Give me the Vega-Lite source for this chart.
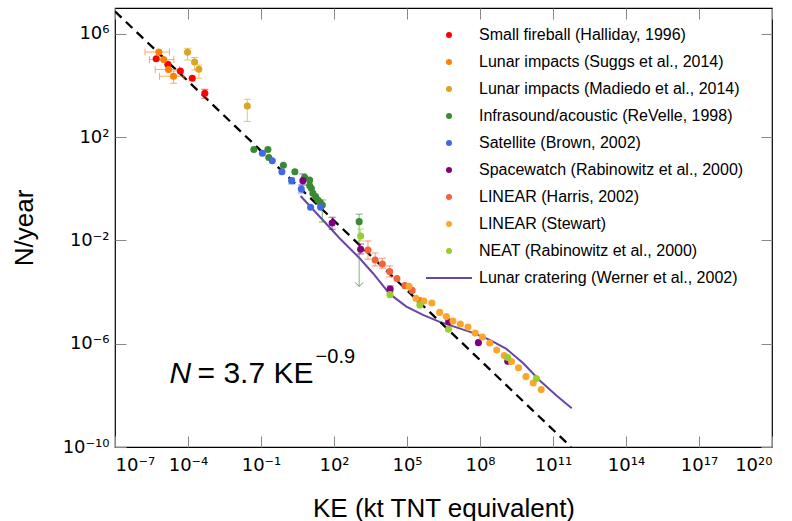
{
  "$schema": "https://vega.github.io/schema/vega-lite/v6.json",
  "width": 657,
  "height": 439,
  "autosize": {"type": "none"},
  "padding": {"left": 115, "top": 8, "right": 20, "bottom": 74},
  "background": "white",
  "config": {
    "view": {"stroke": "black", "strokeWidth": 1.2},
    "font": "Liberation Sans",
    "axis": {"grid": false, "domain": false, "tickColor": "#888888", "tickSize": -11, "tickWidth": 1, "labelFont": "DejaVu Sans", "labelFontSize": 18, "labelColor": "black", "labelPadding": 20, "titleFont": "Liberation Sans", "titleFontWeight": "normal", "titleColor": "black", "titleFontSize": 26}
  },
  "resolve": {"axis": {"x": "independent", "y": "independent"}, "legend": {"color": "independent", "shape": "independent"}},
  "datasets": {
    "pts": [
      {"s": "Small fireball (Halliday, 1996)", "ke": 4.94e-6, "n": 1.09e5},
      {"s": "Small fireball (Halliday, 1996)", "ke": 1.48e-5, "n": 6.61e4},
      {"s": "Small fireball (Halliday, 1996)", "ke": 4.84e-5, "n": 3.64e4},
      {"s": "Small fireball (Halliday, 1996)", "ke": 1.49e-4, "n": 1.90e4},
      {"s": "Small fireball (Halliday, 1996)", "ke": 4.92e-4, "n": 4.99e3, "nlo": 3.19e3, "nhi": 7.13e3},
      {"s": "Lunar impacts (Suggs et al., 2014)", "ke": 6.32e-6, "n": 1.98e5, "kelo": 1.71e-6, "kehi": 1.74e-5},
      {"s": "Lunar impacts (Suggs et al., 2014)", "ke": 1.0e-5, "n": 1.01e5, "kelo": 2.62e-6, "kehi": 2.62e-5},
      {"s": "Lunar impacts (Suggs et al., 2014)", "ke": 1.58e-5, "n": 4.16e4, "kelo": 4.5e-6, "kehi": 4.49e-5},
      {"s": "Lunar impacts (Suggs et al., 2014)", "ke": 2.54e-5, "n": 2.29e4, "kelo": 6.76e-6, "kehi": 6.75e-5, "nlo": 1.22e4, "nhi": 3.64e4},
      {"s": "Lunar impacts (Madiedo et al., 2014)", "ke": 9.57e-5, "n": 1.93e5, "nlo": 9.7e4, "nhi": 2.75e5},
      {"s": "Lunar impacts (Madiedo et al., 2014)", "ke": 1.86e-4, "n": 8.11e4, "nlo": 3.98e4, "nhi": 1.21e5},
      {"s": "Lunar impacts (Madiedo et al., 2014)", "ke": 2.79e-4, "n": 4.24e4, "nlo": 1.9e4, "nhi": 6.21e4},
      {"s": "Lunar impacts (Madiedo et al., 2014)", "ke": 2.73e-2, "n": 1.61e3, "nlo": 404, "nhi": 2.92e3},
      {"s": "Infrasound/acoustic (ReVelle, 1998)", "ke": 0.0509, "n": 33.3},
      {"s": "Infrasound/acoustic (ReVelle, 1998)", "ke": 0.192, "n": 33.3},
      {"s": "Infrasound/acoustic (ReVelle, 1998)", "ke": 0.209, "n": 16.3},
      {"s": "Infrasound/acoustic (ReVelle, 1998)", "ke": 0.832, "n": 8.2},
      {"s": "Infrasound/acoustic (ReVelle, 1998)", "ke": 2.47, "n": 4.59},
      {"s": "Infrasound/acoustic (ReVelle, 1998)", "ke": 6.19, "n": 2.79},
      {"s": "Infrasound/acoustic (ReVelle, 1998)", "ke": 9.95, "n": 2.19},
      {"s": "Infrasound/acoustic (ReVelle, 1998)", "ke": 9.95, "n": 1.34},
      {"s": "Infrasound/acoustic (ReVelle, 1998)", "ke": 11.7, "n": 1.05},
      {"s": "Infrasound/acoustic (ReVelle, 1998)", "ke": 13.6, "n": 0.67},
      {"s": "Infrasound/acoustic (ReVelle, 1998)", "ke": 17.5, "n": 0.495},
      {"s": "Infrasound/acoustic (ReVelle, 1998)", "ke": 21.8, "n": 0.369},
      {"s": "Infrasound/acoustic (ReVelle, 1998)", "ke": 27.4, "n": 0.29},
      {"s": "Infrasound/acoustic (ReVelle, 1998)", "ke": 33.1, "n": 0.236, "nlo": 0.0519, "nhi": 0.369},
      {"s": "Infrasound/acoustic (ReVelle, 1998)", "ke": 1080, "n": 0.0533, "nlo": 1.65e-4, "nhi": 0.104, "lim": true},
      {"s": "Satellite (Brown, 2002)", "ke": 0.114, "n": 23.9},
      {"s": "Satellite (Brown, 2002)", "ke": 0.291, "n": 12.2},
      {"s": "Satellite (Brown, 2002)", "ke": 0.723, "n": 4.59},
      {"s": "Satellite (Brown, 2002)", "ke": 1.81, "n": 2.06, "nlo": 1.53, "nhi": 2.62},
      {"s": "Satellite (Brown, 2002)", "ke": 4.53, "n": 0.984, "nlo": 0.689, "nhi": 1.4},
      {"s": "Satellite (Brown, 2002)", "ke": 10.9, "n": 0.192},
      {"s": "Satellite (Brown, 2002)", "ke": 28.2, "n": 0.192},
      {"s": "Spacewatch (Rabinowitz et al., 2000)", "ke": 5.27, "n": 2.06, "nlo": 1.4, "nhi": 3.74},
      {"s": "Spacewatch (Rabinowitz et al., 2000)", "ke": 83.8, "n": 0.0474, "nlo": 0.027, "nhi": 0.0789},
      {"s": "Spacewatch (Rabinowitz et al., 2000)", "ke": 1245, "n": 4.55e-3, "nlo": 2.99e-3, "nhi": 7.29e-3},
      {"s": "Spacewatch (Rabinowitz et al., 2000)", "ke": 2.03e4, "n": 1.32e-4, "nlo": 1.01e-4, "nhi": 1.73e-4},
      {"s": "Spacewatch (Rabinowitz et al., 2000)", "ke": 5.16e6, "n": 7.1e-6},
      {"s": "Spacewatch (Rabinowitz et al., 2000)", "ke": 8.59e7, "n": 1.1e-6},
      {"s": "Spacewatch (Rabinowitz et al., 2000)", "ke": 1.38e9, "n": 2.1e-7},
      {"s": "LINEAR (Harris, 2002)", "ke": 2483, "n": 4.28e-3, "nlo": 1.87e-3, "nhi": 9.53e-3},
      {"s": "LINEAR (Harris, 2002)", "ke": 4909, "n": 1.75e-3, "nlo": 1.03e-3, "nhi": 3.27e-3},
      {"s": "LINEAR (Harris, 2002)", "ke": 9705, "n": 1.23e-3, "nlo": 8.38e-4, "nhi": 2.04e-3},
      {"s": "LINEAR (Harris, 2002)", "ke": 1.94e4, "n": 6.3e-4, "nlo": 3.85e-4, "nhi": 1.03e-3},
      {"s": "LINEAR (Harris, 2002)", "ke": 3.86e4, "n": 3.37e-4},
      {"s": "LINEAR (Harris, 2002)", "ke": 8.17e4, "n": 1.77e-4},
      {"s": "LINEAR (Harris, 2002)", "ke": 1.63e5, "n": 1.16e-4},
      {"s": "LINEAR (Harris, 2002)", "ke": 3.32e5, "n": 4.74e-5},
      {"s": "LINEAR (Stewart)", "ke": 1.21e5, "n": 1.68e-4},
      {"s": "LINEAR (Stewart)", "ke": 2.33e5, "n": 5.77e-5},
      {"s": "LINEAR (Stewart)", "ke": 4.94e5, "n": 4.54e-5},
      {"s": "LINEAR (Stewart)", "ke": 1.05e6, "n": 3.79e-5},
      {"s": "LINEAR (Stewart)", "ke": 2.2e6, "n": 1.63e-5},
      {"s": "LINEAR (Stewart)", "ke": 4.15e6, "n": 1.12e-5},
      {"s": "LINEAR (Stewart)", "ke": 7.76e6, "n": 7.5e-6},
      {"s": "LINEAR (Stewart)", "ke": 1.56e7, "n": 5.83e-6},
      {"s": "LINEAR (Stewart)", "ke": 3.21e7, "n": 4.39e-6},
      {"s": "LINEAR (Stewart)", "ke": 6.35e7, "n": 2.57e-6},
      {"s": "LINEAR (Stewart)", "ke": 1.26e8, "n": 1.83e-6},
      {"s": "LINEAR (Stewart)", "ke": 2.51e8, "n": 1.07e-6},
      {"s": "LINEAR (Stewart)", "ke": 4.86e8, "n": 5.75e-7},
      {"s": "LINEAR (Stewart)", "ke": 9.89e8, "n": 3.46e-7},
      {"s": "LINEAR (Stewart)", "ke": 1.97e9, "n": 2.03e-7},
      {"s": "LINEAR (Stewart)", "ke": 3.83e9, "n": 1.17e-7},
      {"s": "LINEAR (Stewart)", "ke": 7.73e9, "n": 5.32e-8},
      {"s": "LINEAR (Stewart)", "ke": 1.54e10, "n": 3.03e-8},
      {"s": "LINEAR (Stewart)", "ke": 3.29e10, "n": 1.67e-8},
      {"s": "NEAT (Rabinowitz et al., 2000)", "ke": 1245, "n": 0.0149, "nlo": 9.53e-3, "nhi": 0.0278},
      {"s": "NEAT (Rabinowitz et al., 2000)", "ke": 1.99e4, "n": 7.94e-5},
      {"s": "NEAT (Rabinowitz et al., 2000)", "ke": 3.38e5, "n": 3.12e-5},
      {"s": "NEAT (Rabinowitz et al., 2000)", "ke": 5.07e6, "n": 3.64e-6},
      {"s": "NEAT (Rabinowitz et al., 2000)", "ke": 1.38e9, "n": 2.94e-7},
      {"s": "NEAT (Rabinowitz et al., 2000)", "ke": 2.08e10, "n": 4.45e-8}
    ],
    "crater": [
      {"ke": 4.25, "n": 0.527},
      {"ke": 170, "n": 0.0121},
      {"ke": 1130, "n": 2.04e-3},
      {"ke": 3981, "n": 5.36e-4},
      {"ke": 1.94e4, "n": 8.47e-5},
      {"ke": 9.42e4, "n": 2.73e-5},
      {"ke": 4.53e5, "n": 1.3e-5},
      {"ke": 2.2e6, "n": 6.98e-6},
      {"ke": 1.07e7, "n": 4.28e-6},
      {"ke": 5.15e7, "n": 2.62e-6},
      {"ke": 2.51e8, "n": 1.4e-6},
      {"ke": 1.22e9, "n": 6.28e-7},
      {"ke": 5.86e9, "n": 1.8e-7},
      {"ke": 2.85e10, "n": 3.79e-8},
      {"ke": 1.38e11, "n": 9.95e-9},
      {"ke": 5.9e11, "n": 3.18e-9}
    ],
    "fit": [
      {"ke": 1e-7, "n": 7.38e6},
      {"ke": 5.52e11, "n": 1e-10}
    ]
  },
  "encoding": {
    "x": {"field": "ke", "type": "quantitative", "scale": {"type": "log", "domain": [1e-7, 1e20], "nice": false}, "axis": null},
    "y": {"field": "n", "type": "quantitative", "scale": {"type": "log", "domain": [1e-10, 1e7], "nice": false}, "axis": null},
    "color": {
      "field": "s", "type": "nominal", "legend": null,
      "scale": {
        "domain": ["Small fireball (Halliday, 1996)", "Lunar impacts (Suggs et al., 2014)", "Lunar impacts (Madiedo et al., 2014)", "Infrasound/acoustic (ReVelle, 1998)", "Satellite (Brown, 2002)", "Spacewatch (Rabinowitz et al., 2000)", "LINEAR (Harris, 2002)", "LINEAR (Stewart)", "NEAT (Rabinowitz et al., 2000)", "Lunar cratering (Werner et al., 2002)"],
        "range": ["#ff0000", "#ff8000", "#daa520", "#3a8a35", "#4169e1", "#800080", "#f4623a", "#f9a62a", "#9acd32", "#6646a8"]
      }
    }
  },
  "layer": [
    {
      "data": {"name": "crater"},
      "mark": {"type": "line", "strokeWidth": 2, "clip": true},
      "encoding": {
        "x": {"field": "ke", "type": "quantitative", "scale": {"type": "log", "domain": [1e-7, 1e20], "nice": false},
          "axis": {"orient": "bottom", "values": [1e-7, 1e-4, 0.1, 100, 1e5, 1e8, 1e11, 1e14, 1e17, 1e20], "title": "KE (kt TNT equivalent)", "titlePadding": 21,
            "labelExpr": "'10' + replace(replace(replace(replace(replace(replace(replace(replace(replace(replace(replace('' + round(log(datum.value) / LN10), '-', '⁻'), regexp('0', 'g'), '⁰'), regexp('1', 'g'), '¹'), regexp('2', 'g'), '²'), regexp('3', 'g'), '³'), regexp('4', 'g'), '⁴'), regexp('5', 'g'), '⁵'), regexp('6', 'g'), '⁶'), regexp('7', 'g'), '⁷'), regexp('8', 'g'), '⁸'), regexp('9', 'g'), '⁹')"}},
        "y": {"field": "n", "type": "quantitative", "scale": {"type": "log", "domain": [1e-10, 1e7], "nice": false},
          "axis": {"orient": "left", "values": [1e-10, 1e-6, 1e-2, 100, 1e6], "title": "N/year", "titlePadding": 25, "labelPadding": 17,
            "labelExpr": "'10' + replace(replace(replace(replace(replace(replace(replace(replace(replace(replace(replace('' + round(log(datum.value) / LN10), '-', '⁻'), regexp('0', 'g'), '⁰'), regexp('1', 'g'), '¹'), regexp('2', 'g'), '²'), regexp('3', 'g'), '³'), regexp('4', 'g'), '⁴'), regexp('5', 'g'), '⁵'), regexp('6', 'g'), '⁶'), regexp('7', 'g'), '⁷'), regexp('8', 'g'), '⁸'), regexp('9', 'g'), '⁹')"}},
        "color": {"value": "#6646a8"}
      }
    },
    {
      "data": {"name": "fit"},
      "mark": {"type": "line", "strokeWidth": 2.3, "strokeDash": [9, 6], "clip": true},
      "encoding": {
        "x": {"field": "ke", "type": "quantitative", "scale": {"type": "log", "domain": [1e-7, 1e20], "nice": false},
          "axis": {"orient": "top", "values": [1e-7, 1e-4, 0.1, 100, 1e5, 1e8, 1e11, 1e14, 1e17, 1e20], "labels": false, "title": null}},
        "y": {"field": "n", "type": "quantitative", "scale": {"type": "log", "domain": [1e-10, 1e7], "nice": false},
          "axis": {"orient": "right", "values": [1e-10, 1e-6, 1e-2, 100, 1e6], "labels": false, "title": null}},
        "color": {"value": "black"}
      }
    },
    {
      "data": {"name": "pts"},
      "transform": [{"filter": "isValid(datum.nlo)"}],
      "mark": {"type": "rule", "strokeWidth": 1, "opacity": 0.65},
      "encoding": {
        "y": {"field": "nlo", "type": "quantitative", "scale": {"type": "log", "domain": [1e-10, 1e7], "nice": false}, "axis": null},
        "y2": {"field": "nhi"}
      }
    },
    {
      "data": {"name": "pts"},
      "transform": [{"filter": "isValid(datum.kelo)"}],
      "mark": {"type": "rule", "strokeWidth": 1, "opacity": 0.65},
      "encoding": {
        "x": {"field": "kelo", "type": "quantitative", "scale": {"type": "log", "domain": [1e-7, 1e20], "nice": false}, "axis": null},
        "x2": {"field": "kehi"}
      }
    },
    {
      "data": {"name": "pts"},
      "transform": [{"filter": "isValid(datum.nlo) && !datum.lim"}],
      "mark": {"type": "tick", "orient": "horizontal", "size": 7, "thickness": 1, "opacity": 0.65},
      "encoding": {
        "y": {"field": "nlo", "type": "quantitative", "scale": {"type": "log", "domain": [1e-10, 1e7], "nice": false}, "axis": null}
      }
    },
    {
      "data": {"name": "pts"},
      "transform": [{"filter": "isValid(datum.nhi)"}],
      "mark": {"type": "tick", "orient": "horizontal", "size": 7, "thickness": 1, "opacity": 0.65},
      "encoding": {
        "y": {"field": "nhi", "type": "quantitative", "scale": {"type": "log", "domain": [1e-10, 1e7], "nice": false}, "axis": null}
      }
    },
    {
      "data": {"name": "pts"},
      "transform": [{"filter": "isValid(datum.kelo)"}],
      "mark": {"type": "tick", "orient": "vertical", "size": 7, "thickness": 1, "opacity": 0.65},
      "encoding": {
        "x": {"field": "kelo", "type": "quantitative", "scale": {"type": "log", "domain": [1e-7, 1e20], "nice": false}, "axis": null}
      }
    },
    {
      "data": {"name": "pts"},
      "transform": [{"filter": "isValid(datum.kehi)"}],
      "mark": {"type": "tick", "orient": "vertical", "size": 7, "thickness": 1, "opacity": 0.65},
      "encoding": {
        "x": {"field": "kehi", "type": "quantitative", "scale": {"type": "log", "domain": [1e-7, 1e20], "nice": false}, "axis": null}
      }
    },
    {
      "data": {"name": "pts"},
      "transform": [{"filter": "datum.lim"}],
      "mark": {"type": "point", "shape": "M-1,-1L0,0L1,-1", "filled": false, "size": 64, "strokeWidth": 1, "opacity": 0.8},
      "encoding": {
        "y": {"field": "nlo", "type": "quantitative", "scale": {"type": "log", "domain": [1e-10, 1e7], "nice": false}, "axis": null}
      }
    },
    {
      "data": {"name": "pts"},
      "mark": {"type": "point", "filled": true, "size": 50, "opacity": 1},
      "encoding": {
        "color": {
          "field": "s", "type": "nominal",
          "scale": {
            "domain": ["Small fireball (Halliday, 1996)", "Lunar impacts (Suggs et al., 2014)", "Lunar impacts (Madiedo et al., 2014)", "Infrasound/acoustic (ReVelle, 1998)", "Satellite (Brown, 2002)", "Spacewatch (Rabinowitz et al., 2000)", "LINEAR (Harris, 2002)", "LINEAR (Stewart)", "NEAT (Rabinowitz et al., 2000)", "Lunar cratering (Werner et al., 2002)"],
            "range": ["#ff0000", "#ff8000", "#daa520", "#3a8a35", "#4169e1", "#800080", "#f4623a", "#f9a62a", "#9acd32", "#6646a8"]
          },
          "legend": {"orient": "none", "legendX": 326, "legendY": 19, "title": null, "labelFont": "Liberation Sans", "labelFontSize": 16, "labelColor": "black", "labelLimit": 500, "symbolSize": 36, "symbolStrokeWidth": 0, "rowPadding": 11.0, "labelOffset": 22, "padding": 0, "symbolOffset": 0}
        },
        "shape": {
          "field": "s", "type": "nominal",
          "scale": {
            "domain": ["Small fireball (Halliday, 1996)", "Lunar impacts (Suggs et al., 2014)", "Lunar impacts (Madiedo et al., 2014)", "Infrasound/acoustic (ReVelle, 1998)", "Satellite (Brown, 2002)", "Spacewatch (Rabinowitz et al., 2000)", "LINEAR (Harris, 2002)", "LINEAR (Stewart)", "NEAT (Rabinowitz et al., 2000)", "Lunar cratering (Werner et al., 2002)"],
            "range": ["circle", "circle", "circle", "circle", "circle", "circle", "circle", "circle", "circle", "M-7.67,-0.33L7.67,-0.33L7.67,0.33L-7.67,0.33Z"]
          },
          "legend": {"orient": "none", "legendX": 326, "legendY": 19, "title": null, "labelFont": "Liberation Sans", "labelFontSize": 16, "labelColor": "black", "labelLimit": 500, "symbolSize": 36, "symbolStrokeWidth": 0, "rowPadding": 11.0, "labelOffset": 22, "padding": 0, "symbolOffset": 0}
        }
      }
    },
    {
      "data": {"values": [{"ke": 1.74e-5, "n": 6.76e-8, "t": "N"}]},
      "mark": {"type": "text", "align": "left", "baseline": "middle", "fontSize": 30, "fontStyle": "italic", "font": "Liberation Sans"},
      "encoding": {"text": {"field": "t"}, "color": {"value": "black"}}
    },
    {
      "data": {"values": [{"ke": 2.47e-4, "n": 6.76e-8, "t": "= 3.7 KE"}]},
      "mark": {"type": "text", "align": "left", "baseline": "middle", "fontSize": 30, "font": "Liberation Sans"},
      "encoding": {"text": {"field": "t"}, "color": {"value": "black"}}
    },
    {
      "data": {"values": [{"ke": 17.5, "n": 3.08e-7, "t": "−0.9"}]},
      "mark": {"type": "text", "align": "left", "baseline": "middle", "fontSize": 20, "font": "Liberation Sans"},
      "encoding": {"text": {"field": "t"}, "color": {"value": "black"}}
    }
  ]
}
